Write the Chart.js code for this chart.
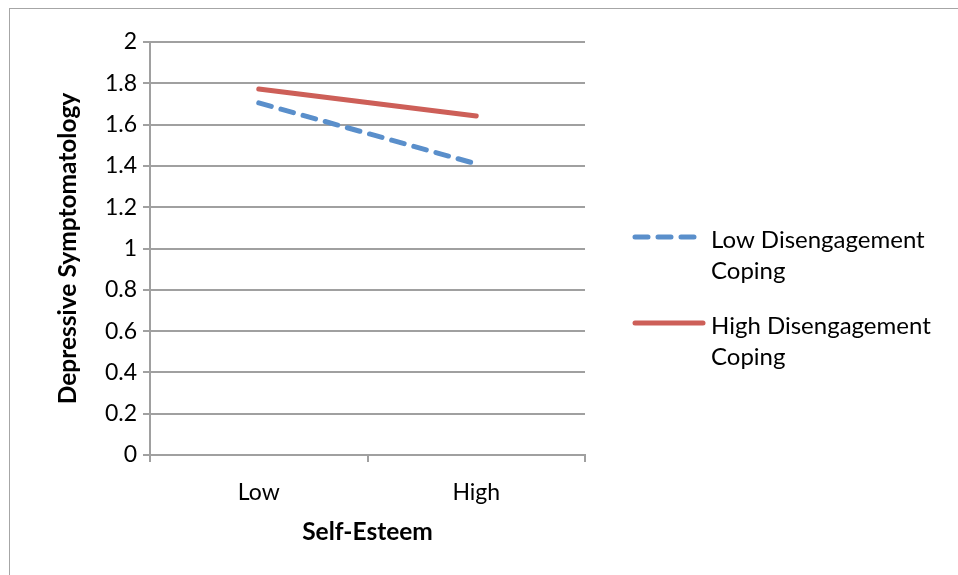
<!DOCTYPE html>
<html><head><meta charset="utf-8">
<script src="https://cdn.jsdelivr.net/npm/chart.js@4.4.0/dist/chart.umd.min.js"></script>
<style>
html,body{margin:0;padding:0;background:#fff;overflow:hidden}
#frame{position:absolute;left:9px;top:8px;width:1000px;height:600px;border:1px solid #a6a6a6;box-sizing:border-box}
#wrap{position:absolute;left:0;top:0;width:958px;height:575px}
canvas{display:block}
</style></head><body>
<div id="frame"></div>
<div id="wrap"><canvas id="c" width="958" height="575" style="width:958px;height:575px"></canvas></div>
<script>
const categories = ['Low', 'High'];
const lowDisengagementCoping = [1.705, 1.41];
const highDisengagementCoping = [1.772, 1.642];
const seriesNames = ['Low Disengagement Coping', 'High Disengagement Coping'];
const legendLines = [['Low Disengagement', 'Coping'], ['High Disengagement', 'Coping']];
const yMin = 0, yMax = 2, yStep = 0.2;
const xTitle = 'Self-Esteem';
const yTitle = 'Depressive Symptomatology';

const FONT = 'Lato, "Open Sans", sans-serif';
const GRID = '#a0a0a0';

const legendPlugin = {
  id: 'sideLegend',
  afterDraw(chart) {
    const ctx = chart.ctx;
    const x0 = 635, textX = 711;
    const ends = [694, 703];
    const ys = [237, 323];
    chart.data.datasets.forEach((ds, i) => {
      const y = ys[i];
      ctx.save();
      ctx.strokeStyle = ds.borderColor;
      ctx.lineWidth = ds.borderWidth;
      ctx.lineCap = 'round';
      ctx.setLineDash(ds.borderDash || []);
      ctx.beginPath();
      ctx.moveTo(x0, y);
      ctx.lineTo(ends[i], y);
      ctx.stroke();
      ctx.restore();
      ctx.save();
      ctx.fillStyle = '#000';
      ctx.font = '24px ' + FONT;
      ctx.textBaseline = 'middle';
      legendLines[i].forEach((t, k) => ctx.fillText(t, textX, y + 3 + k * 31));
      ctx.restore();
    });
  }
};

new Chart(document.getElementById('c'), {
  type: 'line',
  data: {
    labels: categories,
    datasets: [
      { label: seriesNames[0], data: lowDisengagementCoping, borderColor: '#5A8FCB', borderWidth: 5,
        borderDash: [13, 10], borderCapStyle: 'round', pointRadius: 0, fill: false, tension: 0 },
      { label: seriesNames[1], data: highDisengagementCoping, borderColor: '#CD5F58', borderWidth: 5,
        borderCapStyle: 'round', pointRadius: 0, fill: false, tension: 0 }
    ]
  },
  options: {
    responsive: false,
    devicePixelRatio: 1,
    animation: false,
    layout: { padding: { left: 0, top: 42, right: 373, bottom: 20 } },
    plugins: { legend: { display: false }, tooltip: { enabled: false } },
    scales: {
      x: {
        offset: true,
        grid: { offset: true, drawOnChartArea: false, drawTicks: true, tickLength: 7, color: GRID, lineWidth: 2 },
        border: { color: GRID, width: 2 },
        ticks: { color: '#000', font: { family: FONT, size: 23 }, padding: 17 },
        title: { display: true, text: xTitle, color: '#000', font: { family: FONT, size: 24.5, weight: 'bold' }, padding: { top: 0, bottom: 8 } },
        afterFit(scale) { scale.height = 100; }
      },
      y: {
        min: yMin, max: yMax,
        grid: { color: GRID, lineWidth: 2, tickLength: 7 },
        border: { color: GRID, width: 2 },
        ticks: { stepSize: yStep, color: '#000', font: { family: FONT, size: 23 }, padding: 6,
          callback: v => String(Number(v.toFixed(1))) },
        title: { display: true, text: yTitle, color: '#000', font: { family: FONT, size: 24.5, weight: 'bold' }, padding: { top: 53, bottom: 0 } },
        afterFit(scale) { scale.width = 150; }
      }
    }
  },
  plugins: [legendPlugin]
});
</script>
</body></html>
